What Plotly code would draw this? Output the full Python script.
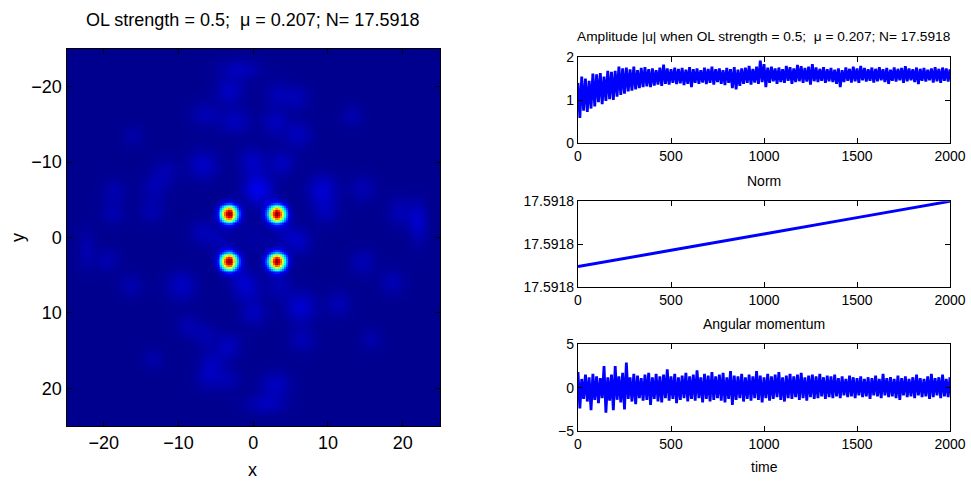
import numpy as np
import plotly.graph_objects as go

# ---------------- data ----------------
# Left panel: |u| field on a grid, four bright vortex peaks plus faint background blobs
grid_x = np.linspace(-25, 25, 201)
grid_y = np.linspace(-25, 25, 201)

peak_x = [-3.2, 3.2, -3.2, 3.2]
peak_y = [-3.1, -3.1, 3.2, 3.2]
peak_amp = [1.0, 1.0, 1.0, 1.0]
peak_w = [0.78, 0.78, 0.78, 0.78]

blob_x = [-1.7, -3.1, 3.2, 5.9, 13.3, -16.1, -6.4, -2.4, 3.0, 6.1, -6.7, -0.1, 3.9, -11.8, 9.3,
          -18.6, -13.2, 0.75, 14.7, -18.8, 19.6, 21.9, -13.6, 9.7, -22.3, 22.2, -6.8, 6.2,
          -19.5, -9.6, -0.8, 6.4, 11.5, 18.7, 14.7, -16.3, -3.3, -5.5, 3.0, 1.7, -6.0, -3.3,
          0.1, -8.7, 6.6, -13.4, 15.8, -6.4, 3.5, 0.0, -1.5, 1.5, -4.5, 4.5, 0.0]
blob_y = [-22.2, -19.4, -19.0, -18.5, -16.1, -13.4, -16.3, -15.4, -15.2, -13.6, -9.6, -10.1, -9.9,
          -8.7, -6.3, -6.1, -6.6, -7.0, -6.5, -3.2, -3.4, -2.6, -3.6, -3.4, 1.6, -1.5, -0.7, 0.6,
          3.0, 6.4, 6.8, 9.2, 8.8, 5.9, 3.3, 6.4, 14.4, 16.6, 19.5, 22.1, 18.6, 18.8,
          10.1, 11.7, 13.5, 16.1, 13.5, 13.0, 6.4, -6.0, 5.5, -5.5, 0.5, -0.5, 0.0]
blob_amp = [0.05, 0.055, 0.04, 0.04, 0.035, 0.03, 0.04, 0.05, 0.05, 0.05, 0.06, 0.055, 0.05, 0.035, 0.07,
            0.035, 0.035, 0.055, 0.04, 0.035, 0.04, 0.035, 0.035, 0.04, 0.035, 0.035, 0.04, 0.05,
            0.035, 0.055, 0.05, 0.07, 0.04, 0.04, 0.04, 0.035, 0.05, 0.04, 0.055, 0.05, 0.04, 0.035,
            0.05, 0.035, 0.04, 0.03, 0.03, 0.035, 0.04, 0.04, 0.035, 0.035, 0.035, 0.035, 0.02]
blob_sx = [1.9, 1.3, 1.2, 1.2, 1.0, 0.9, 1.4, 1.4, 1.2, 1.2, 1.4, 1.3, 1.2, 1.2, 1.4,
           1.1, 1.2, 1.3, 1.2, 1.1, 1.1, 0.9, 1.2, 1.2, 0.8, 0.8, 1.2, 1.2,
           1.1, 1.4, 1.3, 1.4, 1.2, 1.2, 1.2, 1.1, 1.2, 1.2, 1.4, 1.9, 1.2, 1.1,
           1.2, 1.1, 1.2, 1.0, 1.0, 1.1, 1.2, 1.2, 1.2, 1.2, 1.2, 1.2, 1.8]
blob_sy = [0.9, 1.2, 1.2, 1.2, 1.0, 0.9, 1.2, 1.2, 1.2, 1.2, 1.4, 1.3, 1.2, 1.2, 1.4,
           1.1, 1.2, 1.3, 1.2, 1.1, 1.4, 1.7, 1.2, 1.2, 1.9, 1.9, 1.2, 1.2,
           1.1, 1.4, 1.3, 1.4, 1.2, 1.2, 1.2, 1.1, 1.2, 1.2, 1.2, 0.9, 1.2, 1.1,
           1.2, 1.1, 1.2, 1.0, 1.0, 1.1, 1.2, 1.2, 1.2, 1.2, 1.2, 1.2, 1.8]

# Right panels: time series (upper / lower swings of the oscillating signals)
amp_hi = [1.40, 1.55, 1.50, 1.45, 1.62, 1.60, 1.63, 1.55, 1.68, 1.66, 1.68, 1.78, 1.74, 1.76, 1.72,
          1.78, 1.70, 1.75, 1.77, 1.72, 1.74, 1.70, 1.76, 1.83, 1.74, 1.72, 1.76, 1.73, 1.75, 1.71,
          1.77, 1.72, 1.74, 1.70, 1.76, 1.73, 1.78, 1.72, 1.74, 1.70, 1.75, 1.72, 1.77, 1.71, 1.74,
          1.76, 1.80, 1.73, 1.78, 1.92, 1.84, 1.76, 1.78, 1.74, 1.76, 1.72, 1.80, 1.77, 1.74, 1.82,
          1.79, 1.75, 1.78, 1.84, 1.76, 1.73, 1.77, 1.72, 1.75, 1.71, 1.74, 1.70, 1.76, 1.73, 1.78,
          1.74, 1.80, 1.75, 1.72, 1.76, 1.73, 1.77, 1.72, 1.75, 1.71, 1.76, 1.73, 1.75, 1.79, 1.74,
          1.72, 1.76, 1.73, 1.75, 1.71, 1.74, 1.77, 1.73, 1.76, 1.74, 1.72]
amp_lo = [0.58, 0.75, 0.72, 0.80, 0.85, 0.95, 0.90, 0.98, 1.02, 1.00, 1.08, 1.12, 1.15, 1.20, 1.22,
          1.25, 1.28, 1.30, 1.32, 1.30, 1.34, 1.36, 1.33, 1.38, 1.36, 1.40, 1.37, 1.39, 1.35, 1.38,
          1.30, 1.40, 1.38, 1.41, 1.37, 1.40, 1.36, 1.42, 1.38, 1.35, 1.40, 1.28, 1.25, 1.33, 1.38,
          1.40, 1.36, 1.41, 1.38, 1.42, 1.30, 1.40, 1.44, 1.38, 1.42, 1.40, 1.45, 1.38, 1.42, 1.44,
          1.40, 1.43, 1.36, 1.44, 1.42, 1.45, 1.40, 1.44, 1.42, 1.38, 1.30, 1.42, 1.45, 1.41, 1.44,
          1.40, 1.46, 1.43, 1.45, 1.41, 1.44, 1.46, 1.42, 1.38, 1.45, 1.43, 1.46, 1.40, 1.44, 1.46,
          1.42, 1.37, 1.45, 1.43, 1.46, 1.41, 1.44, 1.40, 1.45, 1.43]

norm_t = [0, 500, 1000, 1500, 2000]
norm_vals = [17.59181094, 17.591811705, 17.59181247, 17.591813235, 17.59181400]

ang_hi = [1.8, 1.0, 1.5, 1.2, 1.6, 1.3, 1.1, 2.5, 1.2, 1.5, 2.5, 1.3, 1.7, 2.9, 1.2, 1.6, 1.4, 1.1,
          1.5, 1.7, 1.2, 1.6, 1.3, 1.5, 2.1, 1.3, 1.6, 1.2, 1.4, 1.7, 1.3, 1.5, 2.0, 1.2, 1.6, 1.4,
          1.8, 1.3, 1.5, 1.7, 1.2, 1.9, 1.4, 1.3, 1.6, 1.2, 1.5, 1.3, 1.9, 1.4, 1.2, 1.6, 1.3, 1.5,
          1.8, 1.2, 1.4, 1.6, 1.3, 1.5, 1.7, 1.2, 1.4, 1.5, 1.3, 1.6, 1.2, 1.4, 1.3, 1.5, 1.1, 1.3,
          1.0, 1.4, 1.2, 1.1, 1.3, 1.0, 1.2, 1.1, 1.4, 1.0, 1.6, 1.1, 1.2, 1.0, 1.4, 1.1, 1.3, 1.0,
          1.2, 1.5, 1.1, 1.0, 1.3, 1.6, 1.1, 1.2, 1.5, 1.0, 1.2]
ang_lo = [-2.4, -1.3, -1.6, -2.6, -1.4, -1.8, -1.2, -2.9, -1.5, -2.6, -1.4, -1.7, -2.5, -1.3, -1.6,
          -1.9, -1.2, -1.5, -1.4, -2.0, -1.3, -1.6, -1.7, -1.2, -1.5, -1.3, -1.8, -1.4, -1.2, -1.6,
          -1.3, -1.5, -1.2, -1.7, -1.3, -1.6, -1.4, -1.2, -1.5, -1.7, -1.3, -2.0, -1.4, -1.2, -1.6,
          -1.3, -1.5, -1.2, -1.4, -1.7, -1.2, -1.5, -1.3, -1.1, -1.4, -1.6, -1.2, -1.3, -1.1, -1.4,
          -1.2, -1.5, -1.1, -1.3, -1.2, -1.0, -1.3, -1.1, -1.2, -1.0, -1.2, -0.9, -1.1, -1.0, -1.2,
          -0.9, -1.1, -1.0, -1.3, -0.9, -1.0, -1.2, -0.9, -1.1, -1.0, -1.2, -1.4, -0.9, -1.1, -1.0,
          -1.2, -0.9, -1.1, -1.0, -1.3, -1.1, -0.9, -1.2, -1.0, -1.1]

heat_ticks = [-20, -10, 0, 10, 20]
time_ticks = [0, 500, 1000, 1500, 2000]
amp_ticks = [0, 1, 2]
norm_ticks = [17.591810, 17.591812, 17.591814]
ang_ticks = [-5, 0, 5]

title_left = "OL strength = 0.5;  \u03bc = 0.207; N= 17.5918"
title_right = "Amplitude |u| when OL strength = 0.5;  \u03bc = 0.207; N= 17.5918"

# ---------------- build ----------------
X, Y = np.meshgrid(np.array(grid_x), np.array(grid_y))
Z = np.zeros_like(X)
for x0, y0, a, w in zip(peak_x, peak_y, peak_amp, peak_w):
    Z += a * np.exp(-((X - x0) ** 2 + (Y - y0) ** 2) / (2 * w ** 2))
for x0, y0, a, sx, sy in zip(blob_x, blob_y, blob_amp, blob_sx, blob_sy):
    Z += a * np.exp(-((X - x0) ** 2) / (2 * sx ** 2) - ((Y - y0) ** 2) / (2 * sy ** 2))


def zigzag(hi, lo, step=10):
    t, v = [], []
    for i, h in enumerate(hi):
        t.append(2 * i * step)
        v.append(h)
        if i < len(lo):
            t.append((2 * i + 1) * step)
            v.append(lo[i])
    return t, v


amp_t, amp_v = zigzag(amp_hi, amp_lo)
ang_t, ang_v = zigzag(ang_hi, ang_lo)

jet = [[0.0, "rgb(0,0,143)"], [0.125, "rgb(0,0,255)"], [0.375, "rgb(0,255,255)"],
       [0.625, "rgb(255,255,0)"], [0.875, "rgb(255,0,0)"], [1.0, "rgb(128,0,0)"]]

FONT = "Liberation Sans, Arial, Helvetica, sans-serif"
BLUE = "rgb(0,0,255)"

fig = go.Figure()
fig.add_trace(go.Heatmap(x=grid_x, y=grid_y, z=Z, colorscale=jet, zmin=0, zmax=float(Z.max()),
                         showscale=False, hoverinfo="skip", xaxis="x", yaxis="y"))
fig.add_trace(go.Scatter(x=amp_t, y=amp_v, mode="lines",
                         line=dict(color=BLUE, width=2.8, simplify=False),
                         xaxis="x2", yaxis="y2", showlegend=False))
fig.add_trace(go.Scatter(x=norm_t, y=norm_vals, mode="lines",
                         line=dict(color=BLUE, width=3, simplify=False),
                         xaxis="x3", yaxis="y3", showlegend=False))
fig.add_trace(go.Scatter(x=ang_t, y=ang_v, mode="lines",
                         line=dict(color=BLUE, width=2.8, simplify=False),
                         xaxis="x4", yaxis="y4", showlegend=False))


def ax(domain, rng, ticks, anchor, size, fmt=None):
    d = dict(domain=domain, range=rng, tickvals=ticks, anchor=anchor, ticks="inside", ticklen=5,
             tickcolor="black", mirror="ticks", showline=True, linecolor="black", linewidth=1.3,
             showgrid=False, zeroline=False, automargin=False,
             tickfont=dict(family=FONT, size=size, color="black"))
    if fmt:
        d["tickformat"] = fmt
    return d


W, H = 971, 481
def fx(px):
    return px / W
def fy(py):
    return 1 - py / H

fig.update_layout(
    width=W, height=H, margin=dict(l=0, r=0, t=0, b=0, pad=0, autoexpand=False),
    paper_bgcolor="white", plot_bgcolor="white",
    font=dict(family=FONT, color="black"),
    showlegend=False,
    xaxis=ax([fx(66.5), fx(440)], [-25, 25], heat_ticks, "y", 18),
    yaxis=ax([fy(426), fy(49)], [25, -25], heat_ticks, "x", 18),
    xaxis2=ax([fx(578), fx(950)], [0, 2000], time_ticks, "y2", 14),
    yaxis2=ax([fy(142.7), fy(57.3)], [0, 2], amp_ticks, "x2", 14),
    xaxis3=ax([fx(578), fx(950)], [0, 2000], time_ticks, "y3", 14),
    yaxis3=ax([fy(286.7), fy(201.3)], [17.591810, 17.591814], norm_ticks, "x3", 14, fmt=".4f"),
    xaxis4=ax([fx(578), fx(950)], [0, 2000], time_ticks, "y4", 14),
    yaxis4=ax([fy(431), fy(344.3)], [-5, 5], ang_ticks, "x4", 14),
)

ann = [
    (title_left, fx(252), fy(20), 18, 0),
    ("x", fx(253), fy(470), 18, 0),
    ("y", fx(18), fy(238), 18, -90),
    (title_right, fx(764), fy(36), 13.7, 0),
    ("Norm", fx(764), fy(181), 14, 0),
    ("Angular momentum", fx(764), fy(324), 14, 0),
    ("time", fx(764), fy(467), 14, 0),
]
fig.update_layout(annotations=[
    dict(text=t, x=x, y=y, xref="paper", yref="paper", xanchor="center", yanchor="middle",
         showarrow=False, textangle=a, font=dict(family=FONT, size=s, color="black"))
    for t, x, y, s, a in ann
])

fig.write_html("out.html")
